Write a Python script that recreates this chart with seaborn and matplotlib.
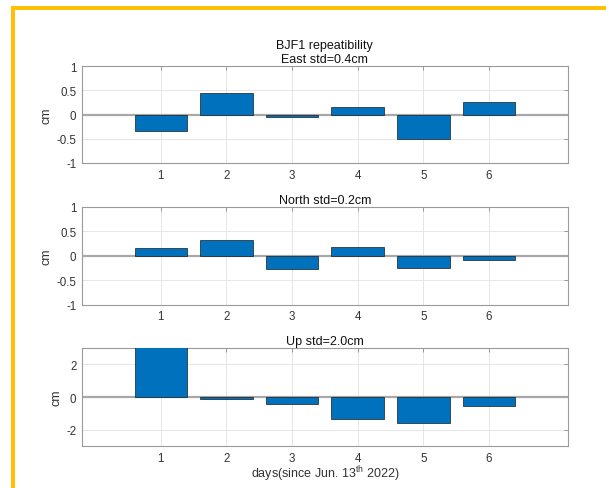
import matplotlib
matplotlib.use("Agg")
import matplotlib.pyplot as plt
from matplotlib.patches import Rectangle
import seaborn as sns
import pandas as pd

days = [1, 2, 3, 4, 5, 6]
east = [-0.34, 0.45, -0.04, 0.16, -0.50, 0.26]
north = [0.15, 0.32, -0.27, 0.18, -0.26, -0.09]
up = [3.1, -0.14, -0.39, -1.32, -1.57, -0.56]

titles = ["BJF1 repeatibility\nEast std=0.4cm", "North std=0.2cm", "Up std=2.0cm"]
ylims = [(-1, 1), (-1, 1), (-3, 3)]
yticks = [[-1, -0.5, 0, 0.5, 1], [-1, -0.5, 0, 0.5, 1], [-2, 0, 2]]
yticklabels = [["-1", "-0.5", "0", "0.5", "1"], ["-1", "-0.5", "0", "0.5", "1"], ["-2", "0", "2"]]
xlabel = "days(since Jun. 13$^{\\mathregular{th}}$ 2022)"

sns.set_style("white")
plt.rcParams["font.family"] = ["Liberation Sans", "DejaVu Sans"]
plt.rcParams["mathtext.fontset"] = "custom"
plt.rcParams["mathtext.rm"] = "Liberation Sans"

W, H = 606, 489
fig = plt.figure(figsize=(W / 100, H / 100), dpi=100)
fig.patch.set_facecolor("white")

# yellow frame (top and left edges visible)
yel = "#FFC000"
fig.add_artist(Rectangle((11 / W, 0), 3.5 / W, 1 - 7 / H, transform=fig.transFigure,
                         facecolor=yel, edgecolor="none"))
fig.add_artist(Rectangle((11 / W, 1 - 10.5 / H), 1, 3.5 / H, transform=fig.transFigure,
                         facecolor=yel, edgecolor="none"))

left = 82 / W
width = (567.7 - 82) / W
boxes = [(67.3, 164.0), (207.7, 305.7), (349.0, 447.3)]
series = [east, north, up]

spine_col = "#9a9a9a"
txt_col = "#333333"

for i, (top, bot) in enumerate(boxes):
    ax = fig.add_axes([left, 1 - bot / H, width, (bot - top) / H])
    df = pd.DataFrame({"day": days, "value": series[i]})
    ax.axhline(0, color="#a8a8a8", lw=1.6, zorder=1)
    sns.barplot(data=df, x="day", y="value", native_scale=True, width=0.8,
                color="#0072BD", saturation=1, edgecolor="#1a1a1a", linewidth=0.5,
                ax=ax, zorder=3)
    ax.set_xlim(-0.2, 7.2)
    ax.set_ylim(*ylims[i])
    ax.set_xticks(days)
    ax.set_xticklabels([str(d) for d in days])
    ax.set_yticks(yticks[i])
    ax.set_yticklabels(yticklabels[i])
    ax.grid(True, color="#e6e6e6", lw=0.7, zorder=0)
    ax.set_axisbelow(True)
    ax.tick_params(direction="in", length=3, width=0.6, color="#888888",
                   top=True, right=True, labelsize=8.3, labelcolor=txt_col, pad=4)
    for s in ax.spines.values():
        s.set_color(spine_col)
        s.set_linewidth(0.8)
        s.set_visible(True)
    ax.set_ylabel("cm", fontsize=9, color=txt_col, labelpad=3)
    ax.set_xlabel(xlabel if i == 2 else "", fontsize=9, color=txt_col, labelpad=0)
    ax.set_title(titles[i], fontsize=9, color="#111111", pad=3, linespacing=1.2)

fig.savefig("out.png", dpi=100)
